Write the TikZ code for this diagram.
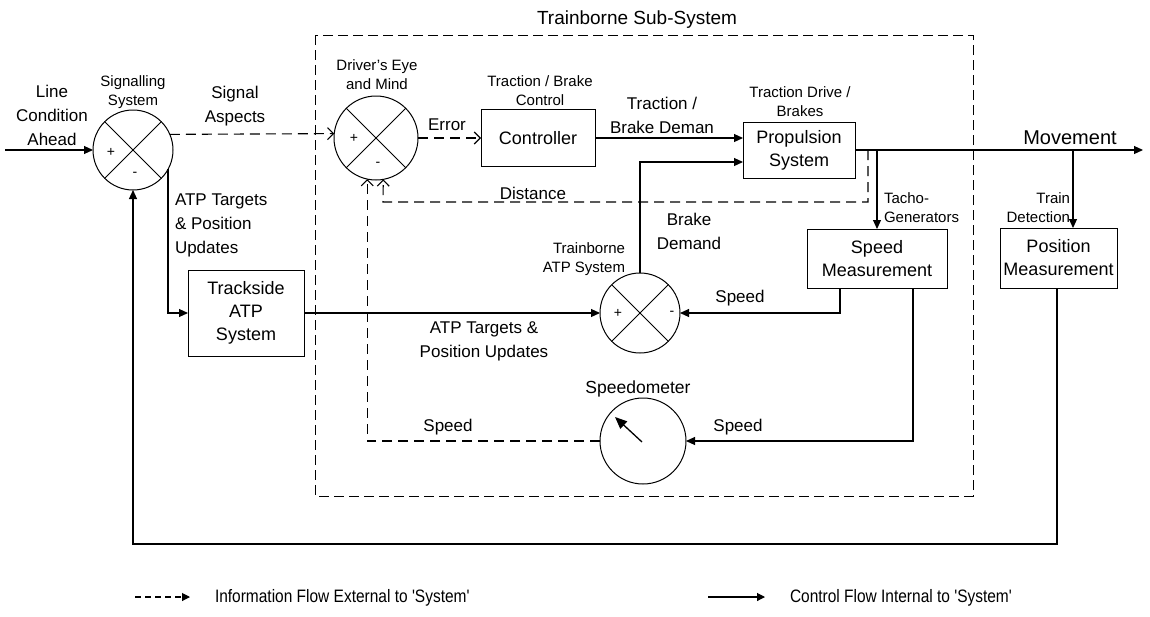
\documentclass[tikz,border=0pt]{standalone}
\usepackage{fontspec}
\setmainfont{Liberation Sans}
\newfontfamily\narrowfont[FakeStretch=0.86]{Liberation Sans}
\usetikzlibrary{arrows.meta,calc}
\begin{document}
\begin{tikzpicture}[x=1pt,y=-1pt,
  every node/.style={inner sep=0pt, outer sep=0pt},
  lbl/.style={font=\fontsize{17}{24}\selectfont, align=center},
  small/.style={font=\fontsize{15}{19}\selectfont, align=center},
  legend/.style={font=\narrowfont\fontsize{18}{20}\selectfont, anchor=west},
  sign/.style={font=\fontsize{14}{14}\selectfont},
  blk/.style={draw, line width=1pt, align=center, font=\fontsize{18}{23}\selectfont},
  sumj/.style={draw, circle, line width=1pt},
  ctl/.style={line width=1.1pt, -{Triangle[length=9pt,width=8pt]}},
  info/.style={line width=1.1pt, dash pattern=on 10pt off 6pt, -{Straight Barb[length=6pt,width=12pt]}},
  boxdash/.style={line width=1pt, dash pattern=on 10pt off 5pt},
]
\useasboundingbox (0,0) rectangle (1150,616);

% sub-system frame and title
\draw[boxdash] (315,35) rectangle (973,496);
\node[font=\fontsize{19}{22}\selectfont] (title) at (637,20) {Trainborne Sub-System};

% summing junctions and speedometer
\node[sumj, minimum size=80pt] (S) at (133,150) {};
\node[sumj, minimum size=84pt] (D) at (376,138) {};
\node[sumj, minimum size=80pt] (A) at (640,313) {};
\node[sumj, minimum size=86pt] (M) at (643,441) {};
\foreach \n in {S,D,A}{\draw[line width=1pt] (\n.45) -- (\n.225) (\n.135) -- (\n.-45);}
\node[sign] (Sp) at ($(S)+(-22,2)$) {+};
\node[sign] (Sm) at ($(S)+(2,24)$) {-};
\node[sign] (Dp) at ($(D)+(-22,0)$) {+};
\node[sign] (Dm) at ($(D)+(2,26)$) {-};
\node[sign] (Ap) at ($(A)+(-22,0)$) {+};
\node[sign] (Am) at ($(A)+(32,0)$) {-};

% blocks
\node[blk, minimum width=114pt, minimum height=57pt] (C) at (538,138) {Controller};
\node[blk, minimum width=112pt, minimum height=56pt] (P) at (799,150) {Propulsion\\System};
\node[blk, minimum width=140pt, minimum height=59pt] (SM) at (877,258.5) {Speed\\Measurement};
\node[blk, minimum width=117pt, minimum height=60pt] (PM) at (1058.5,258) {Position\\Measurement};
\node[blk, minimum width=116pt, minimum height=86pt] (T) at (246,313) {Trackside\\ATP\\System};

% free ends / taps
\coordinate (lin) at (5,150);
\coordinate (mv) at (1143,150);
\coordinate (dtap) at (868,150);
\coordinate (ttap) at (877,150);
\coordinate (ptap) at (1073,150);

% connectors
\draw[ctl] (lin) -- (S.west);
\draw[info] (S.23.6) -- (D.174.5);
\draw[info] (D.east) -- (C.west);
\draw[ctl] (C.east) -- (C.east -| P.west);
\draw[ctl] (A.north) |- ($(P.south west)+(0,-16)$);
\draw[ctl] (P.east) -- (mv);
\draw[info] (dtap) -- (868,202) -- (383,202) -- (D.-80.4);
\draw[ctl] (ttap) -- (SM.north);
\draw[ctl] (ptap) -- (ptap |- PM.north);
\draw[ctl] ($(SM.south west)+(33,0)$) |- (A.east);
\draw[ctl] ($(SM.south west)+(106,0)$) |- (M.east);
\draw[info] (M.west) -| (D.-102.4);
\draw[line width=1.3pt, -{Triangle[length=12pt,width=10pt]}] ($(M)+(-1,1)$) -- ($(M)+(-28,-24)$);
\draw[ctl] (S.-29) |- (T.west);
\draw[ctl] (T.east) -- (A.west);
\draw[ctl] ($(PM.south west)+(57,0)$) |- ($(S.south)+(0,354)$) -- (S.south);

% labels
\node[lbl] (l1) at (52,115) {Line\\Condition\\Ahead};
\node[small] (l2) at (133,92) {Signalling\\System};
\node[lbl] (l3) at (235,106) {Signal\\Aspects};
\node[small] (l4) at (377,75) {Driver's Eye\\and Mind};
\node[lbl] (l5) at (447,125) {Error};
\node[small] (l6) at (540,91) {Traction / Brake\\Control};
\node[lbl] (l7) at (662,115.5) {Traction /\\Brake Deman};
\node[small] (l8) at (800,102) {Traction Drive /\\Brakes};
\node[font=\fontsize{20}{22}\selectfont] (l9) at (1070,138) {Movement};
\node[lbl] (l10) at (533,193) {Distance};
\node[small, align=left, anchor=west] (l11) at (884,208) {Tacho-\\Generators};
\node[small, align=right, anchor=east] (l12) at (1070,208) {Train\\Detection};
\node[lbl, align=left, anchor=west] (l13) at (175,225.5) {ATP Targets\\\& Position\\Updates};
\node[small, align=right, anchor=east] (l14) at (625,259.5) {Trainborne\\ATP System};
\node[lbl] (l15) at (689,231.5) {Brake\\Demand};
\node[lbl] (l16) at (740,298) {Speed};
\node[lbl] (l17) at (484,341) {ATP Targets \&\\Position Updates};
\node[font=\fontsize{17.5}{20}\selectfont] (l18) at (638,389) {Speedometer};
\node[lbl] (l19) at (738,427) {Speed};
\node[lbl] (l20) at (448,427) {Speed};

% legend
\coordinate (ga) at (135,597);
\coordinate (gb) at (190,597);
\coordinate (gc) at (708,597);
\coordinate (gd) at (765,597);
\draw[line width=1.1pt, dash pattern=on 6pt off 4pt, -{Triangle[length=8pt,width=8pt]}] (ga) -- (gb);
\draw[line width=1.1pt, -{Triangle[length=8pt,width=8pt]}] (gc) -- (gd);
\node[legend] (g1) at (215,598) {Information Flow External to 'System'};
\node[legend] (g2) at (790,598) {Control Flow Internal to 'System'};
\end{tikzpicture}
\end{document}
